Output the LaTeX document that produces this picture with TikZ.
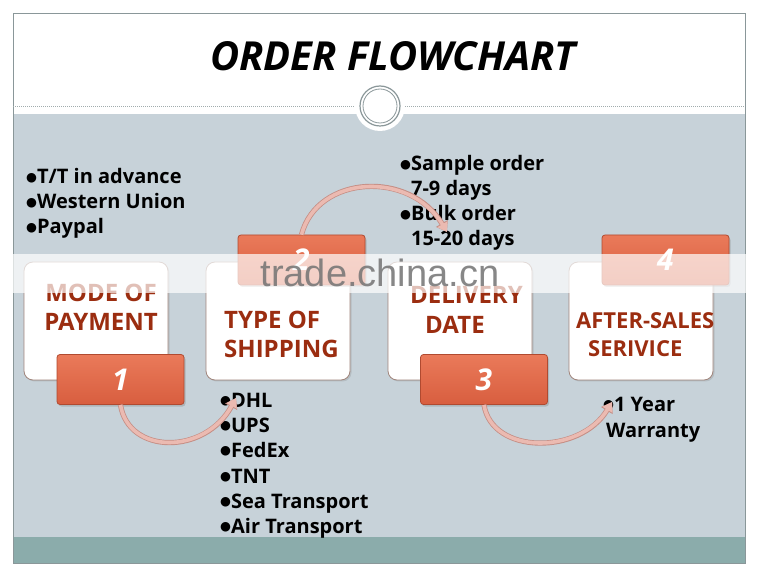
\documentclass[tikz,border=0pt]{standalone}
\usepackage{fontspec}
\setmainfont{Open Sans}
\newfontfamily\dejavu{DejaVu Sans}
\newfontfamily\wmfont{Liberation Sans}
\usetikzlibrary{arrows.meta,shadows}
\definecolor{panelgray}{HTML}{C7D2D9}
\definecolor{teal}{HTML}{8BACAB}
\definecolor{framegray}{HTML}{8A9799}
\definecolor{boxedge}{HTML}{A0857C}
\definecolor{boxtext}{HTML}{9B2D10}
\definecolor{tabtop}{HTML}{EA7A5A}
\definecolor{tabbot}{HTML}{D85E3F}
\definecolor{tabedge}{HTML}{B04A30}
\definecolor{arrowfill}{HTML}{EBBAB1}
\definecolor{arrowedge}{HTML}{C58E85}
\newcommand\blt{\raisebox{2.6pt}{\dejavu\fontsize{12.5}{12.5}\selectfont ●}}
\begin{document}
\begin{tikzpicture}[x=1pt,y=-1pt,
  boxstyle/.style={draw=boxedge, line width=0.8pt, fill=white, rounded corners=9pt,
    minimum width=144pt, minimum height=118pt, inner sep=0pt,
    drop shadow={opacity=0.25, shadow xshift=1.5pt, shadow yshift=-1.5pt}},
  tabstyle/.style={draw=tabedge, line width=0.8pt, rounded corners=3pt,
    top color=tabtop, bottom color=tabbot, minimum width=127pt, minimum height=50pt,
    inner sep=0pt, drop shadow={opacity=0.35, shadow xshift=1.5pt, shadow yshift=-2pt},
    text=white, font=\fontsize{30}{30}\selectfont\bfseries\itshape},
  boxlabel/.style={inner sep=0pt, text=boxtext, font=\fontsize{24}{24}\selectfont\bfseries},
  listline/.style={inner sep=0pt, anchor=base west, font=\fontsize{20}{25}\selectfont\bfseries},
  flowarrow/.style={line width=3.6pt, color=arrowfill, -{Triangle[length=9pt,width=11pt]},
    preaction={draw=arrowedge, line width=5.2pt, -{Triangle[length=10pt,width=13pt]}}}
]
\useasboundingbox (0,0) rectangle (758,577);
\fill[white] (0,0) rectangle (758,577);
% panels
\fill[panelgray] (13,114) rectangle (745,537);
\fill[teal] (13,537) rectangle (745,563);
\draw[framegray, line width=1pt] (13,14) rectangle (745,563);
\draw[framegray!80, line width=0.8pt, dash pattern=on 1pt off 1pt] (13,106) -- (745,106);
% title
\node[anchor=base, inner sep=0pt, font=\fontsize{40}{40}\selectfont\bfseries\itshape] (title) at (393,71) {ORDER FLOWCHART};
% circle ornament
\node[circle, fill=white, minimum size=50pt, inner sep=0pt] (orn) at (380,106) {};
\node[circle, draw=framegray, line width=1.2pt, minimum size=40pt, inner sep=0pt] (ornA) at (orn) {};
\node[circle, draw=framegray, line width=0.8pt, minimum size=34pt, inner sep=0pt] (ornB) at (orn) {};
% text lists
\node[listline] (p1) at (26,184) {\blt T/T in advance};
\node[listline] (p2) at (26,209) {\blt Western Union};
\node[listline] (p3) at (26,234) {\blt Paypal};
\node[listline] (d1) at (400,171) {\blt Sample order};
\node[listline] (d2) at (400,196) {\phantom{\blt}7-9 days};
\node[listline] (d3) at (400,221) {\blt Bulk order};
\node[listline] (d4) at (400,246) {\phantom{\blt}15-20 days};
\node[listline] (s1) at (220,407) {\blt DHL};
\node[listline] (s2) at (220,432) {\blt UPS};
\node[listline] (s3) at (220,457) {\blt FedEx};
\node[listline] (s4) at (220,483) {\blt TNT};
\node[listline] (s5) at (220,508) {\blt Sea Transport};
\node[listline] (s6) at (220,533) {\blt Air Transport};
\node[listline] (w1) at (603,411) {\blt 1 Year};
\node[listline] (w2) at (606,437) {Warranty};
% arrow end points
\coordinate (e1) at (236,398);
\coordinate (e2) at (447,232);
\coordinate (e3) at (612,402);
% boxes
\node[boxstyle] (b1) at (96,321) {};
\node[boxstyle] (b2) at (278,321) {};
\node[boxstyle] (b3) at (460,321) {};
\node[boxstyle] (b4) at (641,321) {};
% box labels
\node[boxlabel, anchor=base] (l1a) at (101,302) {MODE OF};
\node[boxlabel, anchor=base] (l1b) at (101,331) {PAYMENT};
\node[boxlabel, anchor=base west] (l2a) at (224,329) {TYPE OF};
\node[boxlabel, anchor=base west] (l2b) at (224,358) {SHIPPING};
\node[boxlabel, anchor=base west] (l3a) at (410,304) {DELIVERY};
\node[boxlabel, anchor=base west] (l3b) at (425,334) {DATE};
\node[boxlabel, anchor=base west, font=\fontsize{22}{22}\selectfont\bfseries] (l4a) at (576,329) {AFTER-SALES};
\node[boxlabel, anchor=base west, font=\fontsize{22}{22}\selectfont\bfseries] (l4b) at (588,356) {SERIVICE};
% tabs
\node[tabstyle] (t1) at (120.5,379.5) {1};
\node[tabstyle] (t2) at (301.5,260) {2};
\node[tabstyle] (t3) at (484,379.5) {3};
\node[tabstyle] (t4) at (665.5,260) {4};
% arrows
\draw[flowarrow] (t1.south) .. controls +(8,50) and +(-31,57) .. (e1);
\draw[flowarrow] (t2.north) .. controls +(16,-60) and +(-37,-62) .. (e2);
\draw[flowarrow] (t3.south) .. controls +(8,50) and +(-32,53) .. (e3);
% watermark band
\fill[white, opacity=0.7] (13,254) rectangle (758,293);
\node[anchor=base, inner sep=0pt, text=black!55, opacity=0.85, font=\wmfont\fontsize{38}{38}\selectfont] (wm) at (380,287) {trade.china.cn};
\end{tikzpicture}
\end{document}
